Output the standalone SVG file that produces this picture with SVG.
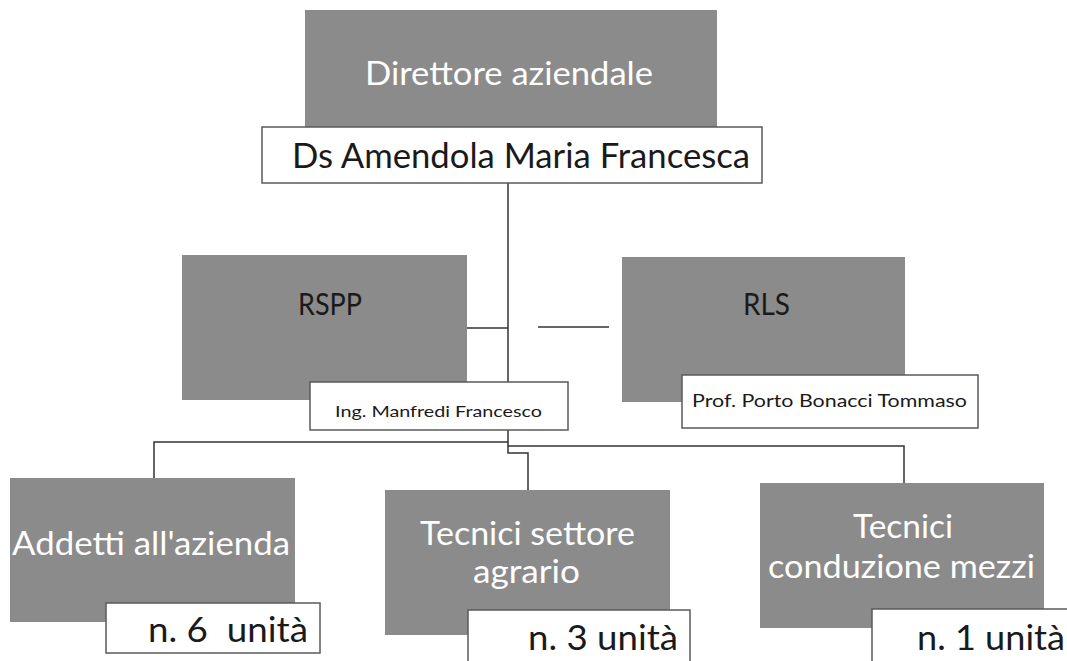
<svg xmlns="http://www.w3.org/2000/svg" width="1067" height="661" viewBox="0 0 1067 661">
<style>
.g{fill:#8b8b8b;}
.w{fill:#ffffff;stroke:#5a5a5a;stroke-width:1.5;}
.t{font-family:Lato,"Liberation Sans",sans-serif;}
.lt{fill:#ffffff;}
.dk{fill:#1a1a1a;}
.c{fill:none;stroke:#333333;stroke-width:1.5;}
</style>
<rect width="1067" height="661" fill="#ffffff"/>
<g id="connectors">
<path class="c" d="M508 183 V453 H528 V490"/>
<path class="c" d="M467 328 H508"/>
<path class="c" d="M538 327 H609"/>
<path class="c" d="M508 442 H154 V478"/>
<path class="c" d="M508 446 H904 V483"/>
</g>
<g id="direttore">
<rect class="g" x="305" y="10" width="412" height="118"/>
<text class="t lt" x="365" y="85" font-size="32" textLength="288" lengthAdjust="spacingAndGlyphs">Direttore aziendale</text>
<rect class="w" x="262" y="127" width="500" height="56"/>
<text class="t dk" x="292" y="168" font-size="35" textLength="458" lengthAdjust="spacingAndGlyphs">Ds Amendola Maria Francesca</text>
</g>
<g id="rspp">
<rect class="g" x="182" y="255" width="285" height="145"/>
<text class="t dk" x="298" y="315" font-size="30" textLength="64" lengthAdjust="spacingAndGlyphs">RSPP</text>
<rect class="w" x="310" y="382" width="258" height="48"/>
<text class="t dk" x="335" y="417" font-size="16" textLength="207" lengthAdjust="spacingAndGlyphs">Ing. Manfredi Francesco</text>
</g>
<g id="rls">
<rect class="g" x="622" y="257" width="283" height="145"/>
<text class="t dk" x="743" y="315" font-size="30" textLength="47" lengthAdjust="spacingAndGlyphs">RLS</text>
<rect class="w" x="682" y="375" width="296" height="53"/>
<text class="t dk" x="692" y="407" font-size="17" textLength="275" lengthAdjust="spacingAndGlyphs">Prof. Porto Bonacci Tommaso</text>
</g>
<g id="addetti">
<rect class="g" x="10" y="478" width="285" height="144"/>
<text class="t lt" x="12" y="555" font-size="32" textLength="278" lengthAdjust="spacingAndGlyphs">Addetti all'azienda</text>
<rect class="w" x="106" y="603" width="214" height="50"/>
<text class="t dk" x="148" y="642" font-size="35" textLength="160" lengthAdjust="spacingAndGlyphs" xml:space="preserve">n. 6  unità</text>
</g>
<g id="tecnici-agrario">
<rect class="g" x="385" y="490" width="285" height="145"/>
<text class="t lt" x="420" y="545" font-size="32" textLength="215" lengthAdjust="spacingAndGlyphs">Tecnici settore</text>
<text class="t lt" x="473" y="583" font-size="32" textLength="107" lengthAdjust="spacingAndGlyphs">agrario</text>
<rect class="w" x="468" y="610" width="222" height="60"/>
<text class="t dk" x="528" y="650" font-size="35" textLength="150" lengthAdjust="spacingAndGlyphs">n. 3 unità</text>
</g>
<g id="tecnici-mezzi">
<rect class="g" x="760" y="483" width="284" height="145"/>
<text class="t lt" x="853" y="538" font-size="32" textLength="100" lengthAdjust="spacingAndGlyphs">Tecnici</text>
<text class="t lt" x="768" y="578" font-size="32" textLength="267" lengthAdjust="spacingAndGlyphs">conduzione mezzi</text>
<rect class="w" x="872" y="609" width="210" height="60"/>
<text class="t dk" x="917" y="650" font-size="35" textLength="148" lengthAdjust="spacingAndGlyphs">n. 1 unità</text>
</g>
</svg>
